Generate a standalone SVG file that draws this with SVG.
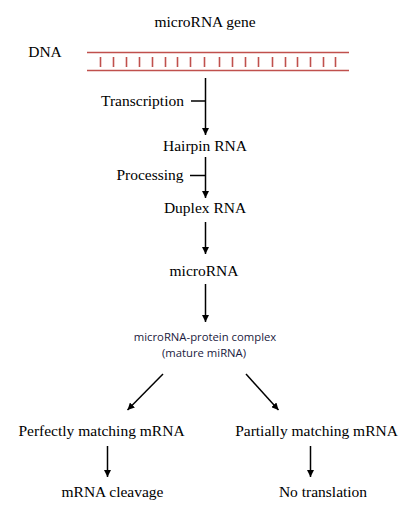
<svg xmlns="http://www.w3.org/2000/svg" width="411" height="513" viewBox="0 0 411 513">
<style>
.t{font-family:"Liberation Serif","Times New Roman",serif;font-size:15.5px;fill:#000;text-anchor:middle}
.s{font-family:"Open Sans","Liberation Sans",sans-serif;font-size:11.3px;fill:#1a1a40;text-anchor:middle}
.ln{stroke:#000;stroke-width:1.5;fill:none}
.dna{stroke:#c0504d;stroke-width:1.6;fill:none}
</style>
<defs>
<marker id="ah" viewBox="0 0 10 10" refX="10" refY="5" markerWidth="7" markerHeight="7" markerUnits="userSpaceOnUse" orient="auto">
<path d="M0,0 L10,5 L0,10 z" fill="#000"/>
</marker>
</defs>
<g id="gene"><text class="t" x="205" y="27">microRNA gene</text></g>
<g id="dna">
<text class="t" x="45" y="57">DNA</text>
<line class="dna" x1="87" y1="52.5" x2="349" y2="52.5"/>
<line class="dna" x1="87" y1="70.5" x2="349" y2="70.5"/>
<path class="dna" stroke-width="1.1" d="M100.5,57V67M113.5,57V67M126.5,57V67M139.5,57V67M152.5,57V67M165.5,57V67M177.5,57V67M190.5,57V67M204.5,57V67M219.5,57V67M232.5,57V67M245.5,57V67M258.5,57V67M272.5,57V67M285.5,57V67M297.5,57V67M310.5,57V67M323.5,57V67M335.5,57V67"/>
</g>
<g id="transcription"><text class="t" x="142.5" y="106">Transcription</text></g>
<g id="hairpin"><text class="t" x="205" y="151">Hairpin RNA</text></g>
<g id="processing"><text class="t" x="150" y="180">Processing</text></g>
<g id="duplex"><text class="t" x="205" y="213">Duplex RNA</text></g>
<g id="microrna"><text class="t" x="204" y="276">microRNA</text></g>
<g id="complex">
<text class="s" x="205" y="341">microRNA-protein complex</text>
<text class="s" x="204" y="357">(mature miRNA)</text>
</g>
<g id="perfect"><text class="t" x="101.5" y="436">Perfectly matching mRNA</text></g>
<g id="partial"><text class="t" x="316.5" y="436">Partially matching mRNA</text></g>
<g id="cleavage"><text class="t" x="112.5" y="497">mRNA cleavage</text></g>
<g id="notrans"><text class="t" x="323" y="497">No translation</text></g>
<g id="connectors">
<line class="ln" x1="205.5" y1="78" x2="205.5" y2="135" marker-end="url(#ah)"/>
<line class="ln" x1="191" y1="101" x2="205.5" y2="101"/>
<line class="ln" x1="205.5" y1="157" x2="205.5" y2="198" marker-end="url(#ah)"/>
<line class="ln" x1="190" y1="175.5" x2="205.5" y2="175.5"/>
<line class="ln" x1="205.5" y1="222" x2="205.5" y2="254" marker-end="url(#ah)"/>
<line class="ln" x1="205.5" y1="284" x2="205.5" y2="322" marker-end="url(#ah)"/>
<line class="ln" x1="163" y1="374" x2="127.5" y2="410" marker-end="url(#ah)"/>
<line class="ln" x1="246" y1="374" x2="278.5" y2="410" marker-end="url(#ah)"/>
<line class="ln" x1="107.5" y1="446" x2="107.5" y2="477" marker-end="url(#ah)"/>
<line class="ln" x1="310.5" y1="446" x2="310.5" y2="477" marker-end="url(#ah)"/>
</g>
</svg>
